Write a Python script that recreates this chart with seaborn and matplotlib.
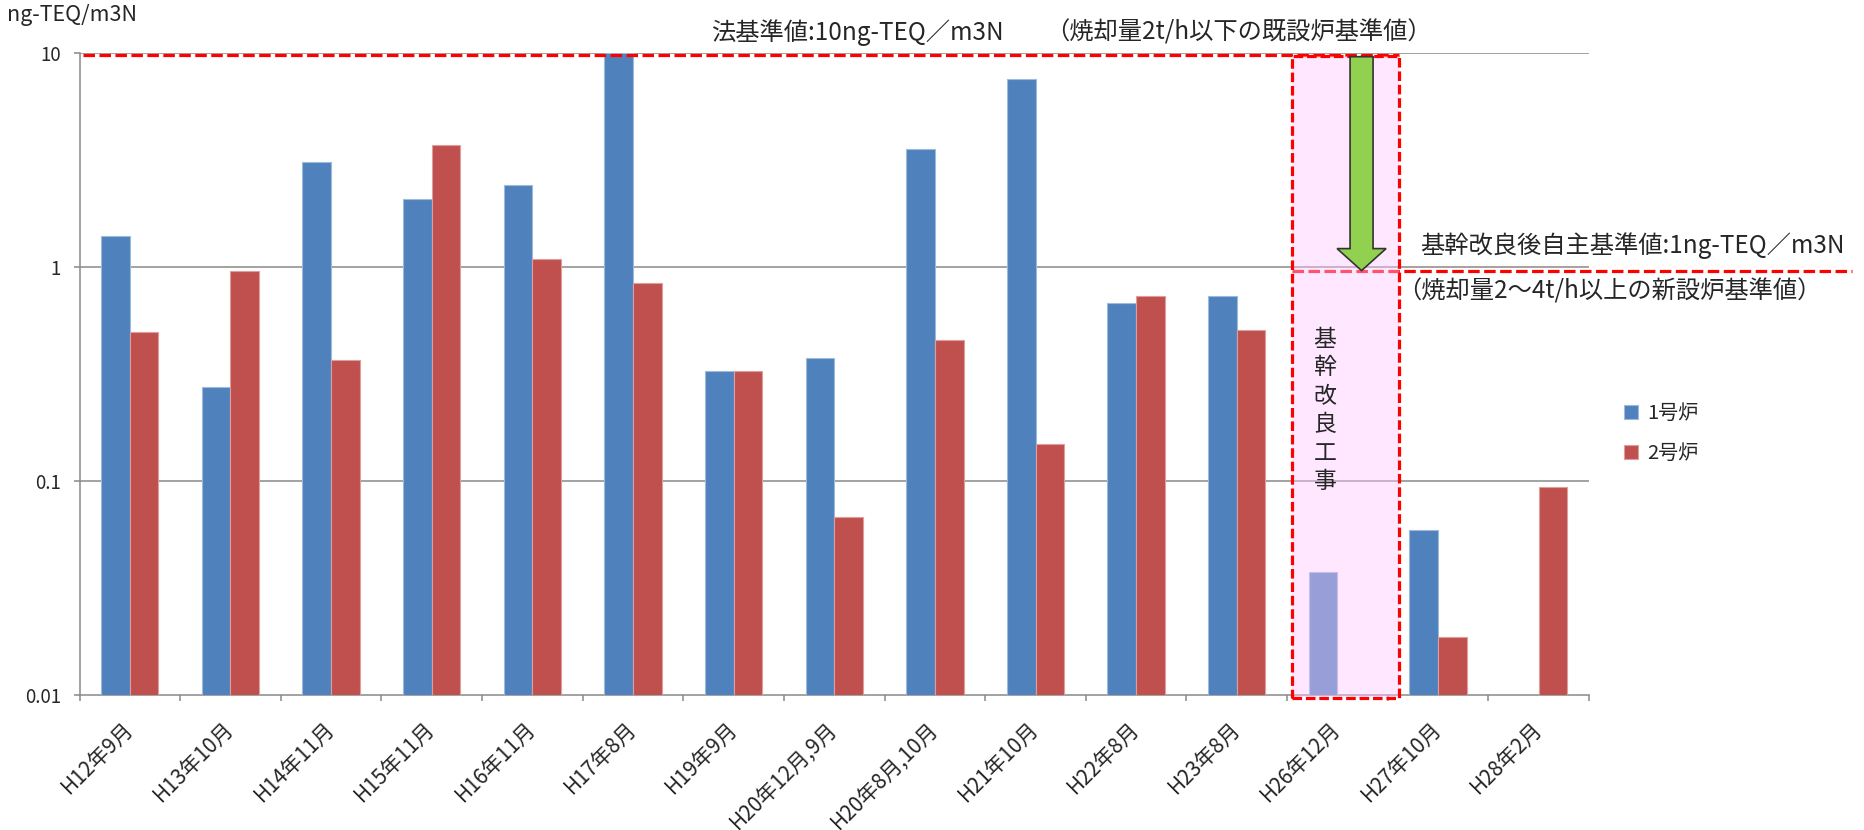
import numpy as np
import pandas as pd
import matplotlib
matplotlib.use("Agg")
import matplotlib.pyplot as plt
import matplotlib.patches as mpatches
import seaborn as sns

categories = ["H12年9月", "H13年10月", "H14年11月", "H15年11月", "H16年11月",
              "H17年8月", "H19年9月", "H20年12月,9月", "H20年8月,10月", "H21年10月",
              "H22年8月", "H23年8月", "H26年12月", "H27年10月", "H28年2月"]
unit1 = [1.40, 0.274, 3.10, 2.08, 2.40, 10.0, 0.327, 0.373, 3.56, 7.52,
         0.678, 0.729, 0.0376, 0.059, np.nan]
unit2 = [0.498, 0.956, 0.366, 3.71, 1.085, 0.838, 0.327, 0.068, 0.455, 0.148,
         0.729, 0.505, np.nan, 0.0187, 0.0934]
series_names = ["1号炉", "2号炉"]
yticks = [0.01, 0.1, 1, 10]
ytick_labels = ["0.01", "0.1", "1", "10"]

df = pd.DataFrame({
    "cat": categories * 2,
    "value": unit1 + unit2,
    "unit": [series_names[0]] * len(categories) + [series_names[1]] * len(categories),
})

sns.set_theme(style="white")
plt.rcParams['font.family'] = ['Noto Sans CJK JP', 'DejaVu Sans']

W, H = 1864, 830
fig = plt.figure(figsize=(W / 100, H / 100), dpi=100)
fx = lambda px: px / W
fy = lambda py: 1 - py / H

L, R, T, B = 79.5, 1589, 52.7, 695
ax = fig.add_axes([fx(L), fy(B), (R - L) / W, (B - T) / H])

BLUE, RED, GRID = "#4F81BD", "#C0504D", "#898989"
sns.barplot(data=df, x="cat", y="value", hue="unit", palette=[BLUE, RED],
            width=0.57, errorbar=None, ax=ax, linewidth=0, zorder=3, saturation=1)
ax.set_yscale("log")
ax.set_ylim(0.01, 10)
ax.set_xlim(-0.5, len(categories) - 0.5)
ax.set_xlabel("")
ax.set_ylabel("")

for p in ax.patches:
    fc = np.array(p.get_facecolor()[:3])
    p.set_edgecolor(tuple(fc * 0.55 + 0.45))
    p.set_linewidth(0.8)

ax.set_yticks(yticks)
ax.set_yticklabels(ytick_labels, fontsize=13.5)
ax.yaxis.set_minor_locator(matplotlib.ticker.NullLocator())
ax.tick_params(axis="y", which="major", length=4.5, width=1.1, color=GRID, pad=9, left=True)
for yv in yticks[1:]:
    ax.axhline(yv, color=GRID, lw=1.1, zorder=1)

ax.set_xticks(range(len(categories)))
ax.set_xticklabels(categories, fontsize=15, rotation=45, ha="right", va="center",
                   rotation_mode="anchor")
ax.tick_params(axis="x", which="major", length=0, pad=22)
ax.set_xticks(np.arange(-0.5, len(categories), 1.0), minor=True)
ax.tick_params(axis="x", which="minor", length=4.5, width=1.1, color=GRID, bottom=True)

for s in ["top", "right"]:
    ax.spines[s].set_visible(False)
for s in ["left", "bottom"]:
    ax.spines[s].set_color(GRID)
    ax.spines[s].set_linewidth(1.1)

# legend
handles, labels = ax.get_legend_handles_labels()
ax.get_legend().remove()
fig.legend(handles, labels, loc="upper left", bbox_to_anchor=(fx(1624), fy(403)),
           frameon=False, fontsize=14.5, handlelength=0.68, handleheight=0.68,
           handletextpad=0.45, labelspacing=0.95, borderpad=0, borderaxespad=0)

# red dashed standard lines
dash = dict(color="#FF0000", lw=2.3, linestyle=(0, (3.6, 1.4)))
xform_x = ax.get_xaxis_transform()
ax.plot([-0.47, 12.615], [9.8, 9.8], zorder=4, **dash)
ax.plot([11.55, 12.0 + (1851 - 1337) / 100.6], [0.96, 0.96], zorder=4, clip_on=False, **dash)

# construction box (semi-transparent overlay)
box_l, box_r = 11.55, 12.615
ax.add_patch(mpatches.Rectangle((box_l, -0.005), box_r - box_l, 1.0, transform=xform_x,
                                facecolor=(1.0, 0.78, 1.0), alpha=0.42, edgecolor="none",
                                zorder=6, clip_on=False))
ax.add_patch(mpatches.Rectangle((box_l, -0.005), box_r - box_l, 1.0, transform=xform_x,
                                facecolor="none", edgecolor="#FF0000", lw=2.3,
                                linestyle=(0, (3.0, 1.2)), zorder=7, clip_on=False))

# green arrow
fig.canvas.draw()
def to_px(x, y):
    dx, dy = ax.transData.transform((x, y))
    return dx, H - dy
cx, y_top = to_px(12.24, 10)
_, y_tip = to_px(12.24, 0.96)
y_top += 4
sw, hw, hl = 11.5, 24.5, 22
pts = [(cx - sw, y_top), (cx + sw, y_top), (cx + sw, y_tip - hl), (cx + hw, y_tip - hl),
       (cx, y_tip), (cx - hw, y_tip - hl), (cx - sw, y_tip - hl)]
fig.patches.append(mpatches.Polygon([(fx(px), fy(py)) for px, py in pts], closed=True,
                                    transform=fig.transFigure, facecolor="#92D050",
                                    edgecolor="#333333", lw=1.2, zorder=8))

# annotations
fs = 17.5
fig.text(fx(711), fy(33), "法基準値:10ng-TEQ／m3N", fontsize=fs, ha="left", va="center")
fig.text(fx(1045), fy(33), "（焼却量2t/h以下の既設炉基準値）", fontsize=fs, ha="left", va="center")
fig.text(fx(1420), fy(246), "基幹改良後自主基準値:1ng-TEQ／m3N", fontsize=fs, ha="left", va="center")
fig.text(fx(1397), fy(291), "（焼却量2～4t/h以上の新設炉基準値）", fontsize=fs, ha="left", va="center")
fig.text(fx(1325), fy(328), "\n".join("基幹改良工事"), fontsize=16.5, ha="center", va="top",
         linespacing=1.3, zorder=9)
fig.text(fx(7), fy(15), "ng-TEQ/m3N", fontsize=15.5, ha="left", va="center")

fig.savefig("out.png", dpi=100)
